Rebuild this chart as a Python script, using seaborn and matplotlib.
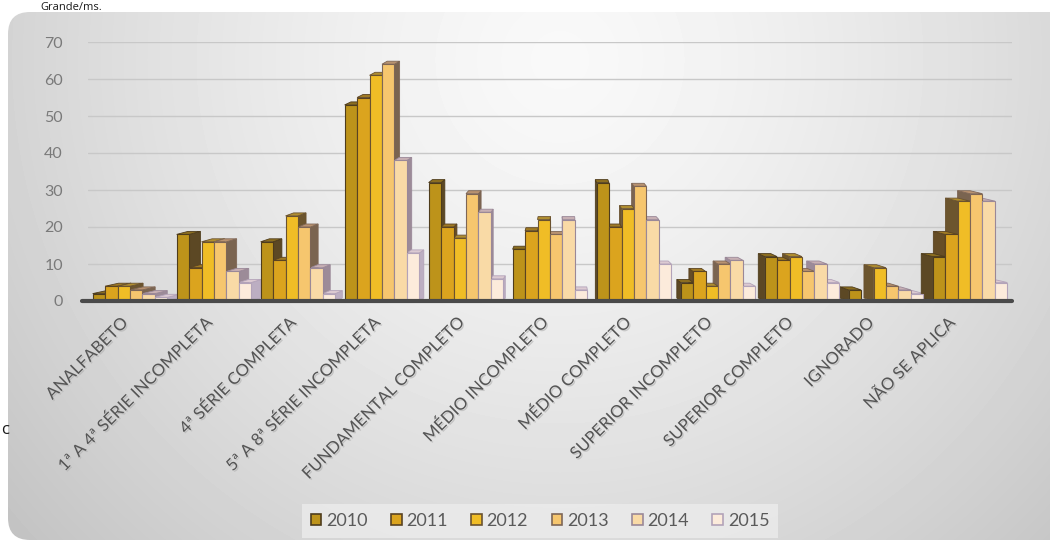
import numpy as np
import pandas as pd
import seaborn as sns
import matplotlib
matplotlib.use("Agg")
import matplotlib.pyplot as plt
from matplotlib.patches import Polygon, FancyBboxPatch, Rectangle
from matplotlib.transforms import ScaledTranslation
import matplotlib.patheffects as pe

# ---- data -------------------------------------------------------------
categories = [
    "ANALFABETO",
    "1ª A 4ª SÉRIE INCOMPLETA",
    "4ª SÉRIE COMPLETA",
    "5ª A 8ª SÉRIE INCOMPLETA",
    "FUNDAMENTAL COMPLETO",
    "MÉDIO INCOMPLETO",
    "MÉDIO COMPLETO",
    "SUPERIOR INCOMPLETO",
    "SUPERIOR COMPLETO",
    "IGNORADO",
    "NÃO SE APLICA",
]
years = ["2010", "2011", "2012", "2013", "2014", "2015"]

v2010 = [2, 18, 16, 53, 32, 14, 32, 5, 12, 3, 12]
v2011 = [4, 9, 11, 55, 20, 19, 20, 8, 11, 0, 18]
v2012 = [4, 16, 23, 61, 17, 22, 25, 4, 12, 9, 27]
v2013 = [3, 16, 20, 64, 29, 18, 31, 10, 8, 4, 29]
v2014 = [2, 8, 9, 38, 24, 22, 22, 11, 10, 3, 27]
v2015 = [1, 5, 2, 13, 6, 3, 10, 4, 5, 2, 5]

y_ticks = [0, 10, 20, 30, 40, 50, 60, 70]

# ---- styling ----------------------------------------------------------
front_colors = ["#bd931a", "#dba41e", "#f0bd26", "#f6c66e", "#f9daa6", "#fcebdb"]
side_colors = ["#5c4824", "#664d26", "#6c552e", "#7a6450", "#9c8b98", "#bcaec2"]
edge_colors = ["#4e3c1c", "#5a4322", "#6a5230", "#7e6656", "#9a8898", "#b3a3b9"]
top_colors = ["#8c6e20", "#a07a24", "#b08e30", "#b89270", "#c8b0b4", "#dccad2"]

series = [v2010, v2011, v2012, v2013, v2014, v2015]
df = pd.DataFrame(
    [(c, y, vals[i]) for y, vals in zip(years, series) for i, c in enumerate(categories)],
    columns=["categoria", "ano", "valor"],
)

sns.set_theme(style="white")
plt.rcParams["font.family"] = ["Lato", "DejaVu Sans"]

W, H = 1050, 542
fig = plt.figure(figsize=(W / 100, H / 100), dpi=100)
fig.patch.set_facecolor("white")

# ---- rounded chart background with soft radial gradient ---------------
bg = fig.add_axes([0, 0, 1, 1])
bg.set_xlim(0, W)
bg.set_ylim(H, 0)
bg.axis("off")
X, Y = np.meshgrid(np.arange(W) + 0.5, np.arange(H) + 0.5)
dist = np.sqrt(((X - 560) / 620) ** 2 + ((Y - 60) / 620) ** 2)
shade = 0.975 - 0.17 * np.clip(dist, 0, 1.4) ** 1.4
img = bg.imshow(shade, cmap="gray", vmin=0, vmax=1, extent=(0, W, H, 0),
                interpolation="bilinear", zorder=0)
frame = FancyBboxPatch((8, 12), 1080, 528, boxstyle="round,pad=0,rounding_size=22",
                       facecolor="none", edgecolor="none", transform=bg.transData)
bg.add_patch(frame)
img.set_clip_path(frame)

# text fragments of the surrounding page
fig.text(40 / W, 1 - 10 / H, "Grande/ms.", fontsize=8, color="#1a1a1a",
         family=["Open Sans", "DejaVu Sans"], va="baseline", ha="left")
fig.text(1 / W, 1 - 430 / H, "c", fontsize=12, color="#1a1a1a",
         family=["Open Sans", "DejaVu Sans"], va="center", ha="left")

# ---- plot area --------------------------------------------------------
x_left, x_right = 88, 1012
y_zero, y_top = 301, 42
ax = fig.add_axes([x_left / W, (H - y_zero) / H, (x_right - x_left) / W,
                   (y_zero - y_top) / H])
ax.patch.set_alpha(0)

sns.barplot(data=df, x="categoria", y="valor", hue="ano", palette=front_colors,
            hue_order=years, order=categories, width=0.89, gap=0, saturation=1,
            legend=False, errorbar=None, ax=ax, linewidth=0.8, zorder=3)

for i, cont in enumerate(ax.containers):
    for bar in cont:
        bar.set_edgecolor(edge_colors[i])
        bar.set_linewidth(0.8)
        bar.set_zorder(3)

ax.set_xlim(-0.5, len(categories) - 0.5)
ax.set_ylim(0, 70)
ax.set_yticks(y_ticks)
ax.set_xlabel("")
ax.set_ylabel("")
for s in ax.spines.values():
    s.set_visible(False)
ax.yaxis.grid(True, color="#c8c8c8", linewidth=1.0)
ax.xaxis.grid(False)
ax.set_axisbelow(True)
ax.axhline(0, xmin=-0.007, xmax=1.0, color="#4a4a4a", linewidth=3, zorder=6,
           clip_on=False)

ax.tick_params(axis="y", length=0, pad=18, labelsize=11.5, labelcolor="#7a7a7a")
ax.tick_params(axis="x", length=0, pad=14, labelsize=12, labelcolor="#555555")
ax.set_xticks(range(len(categories)))
ax.set_xticklabels(categories, rotation=45, ha="right", va="center",
                   rotation_mode="anchor")

# labels drift toward the centre on the right-hand side (perspective)
fig.canvas.draw()
for k, lab in enumerate(ax.get_xticklabels()):
    xc = ax.transData.transform((k, 0))[0]
    drift = -5.0 - 0.035 * max(0.0, xc - 600.0)
    lab.set_transform(lab.get_transform()
                      + ScaledTranslation(drift / 100, 0, fig.dpi_scale_trans))
    lab.set_path_effects([pe.withSimplePatchShadow(offset=(1, -1),
                                                   shadow_rgbFace="#b0b0b0",
                                                   alpha=0.6)])

# ---- perspective depth: side and top faces of every column ------------
to_data = ax.transData.inverted()
VANISH_X = 560.0   # horizontal vanishing position, display px
DEPTH = 0.03       # perspective strength
RISE = 3.0         # upward shift of the back faces, display px

n_hue = len(years)
for i, cont in enumerate(ax.containers):
    for bar in cont:
        h = bar.get_height()
        if not np.isfinite(h) or h <= 0:
            continue
        bx0, by0 = bar.get_x(), 0.0
        bx1, by1 = bx0 + bar.get_width(), h
        (x0, y0), (x1, y1) = ax.transData.transform([(bx0, by0), (bx1, by1)])
        xc = 0.5 * (x0 + x1)
        dx = DEPTH * (VANISH_X - xc)
        if dx >= 0:
            side = [(x1, y0), (x1 + dx, y0 + RISE), (x1 + dx, y1 + RISE), (x1, y1)]
            order = i
        else:
            side = [(x0, y0), (x0 + dx, y0 + RISE), (x0 + dx, y1 + RISE), (x0, y1)]
            order = n_hue - 1 - i
        top = [(x0, y1), (x0 + dx, y1 + RISE), (x1 + dx, y1 + RISE), (x1, y1)]
        z = 2 + 0.05 * order
        ax.add_patch(Polygon(to_data.transform(side), closed=True,
                             facecolor=side_colors[i], edgecolor=edge_colors[i],
                             linewidth=0.6, zorder=z, clip_on=False))
        ax.add_patch(Polygon(to_data.transform(top), closed=True,
                             facecolor=top_colors[i], edgecolor=edge_colors[i],
                             linewidth=0.6, zorder=z + 0.01, clip_on=False))

# ---- legend -----------------------------------------------------------
handles = [Rectangle((0, 0), 1, 1, facecolor=front_colors[i],
                     edgecolor=edge_colors[i], linewidth=1.2)
           for i in range(n_hue)]
leg = fig.legend(handles, years, loc="center",
                 bbox_to_anchor=(540 / W, 1 - 521 / H), ncol=6, frameon=True,
                 facecolor="#ececec", edgecolor="none", framealpha=0.8,
                 fontsize=13, handlelength=0.6, handleheight=0.6,
                 handletextpad=0.25, columnspacing=1.3, borderpad=0.5,
                 fancybox=False)
for t in leg.get_texts():
    t.set_color("#5a5a5a")

fig.savefig("out.png", dpi=100)
